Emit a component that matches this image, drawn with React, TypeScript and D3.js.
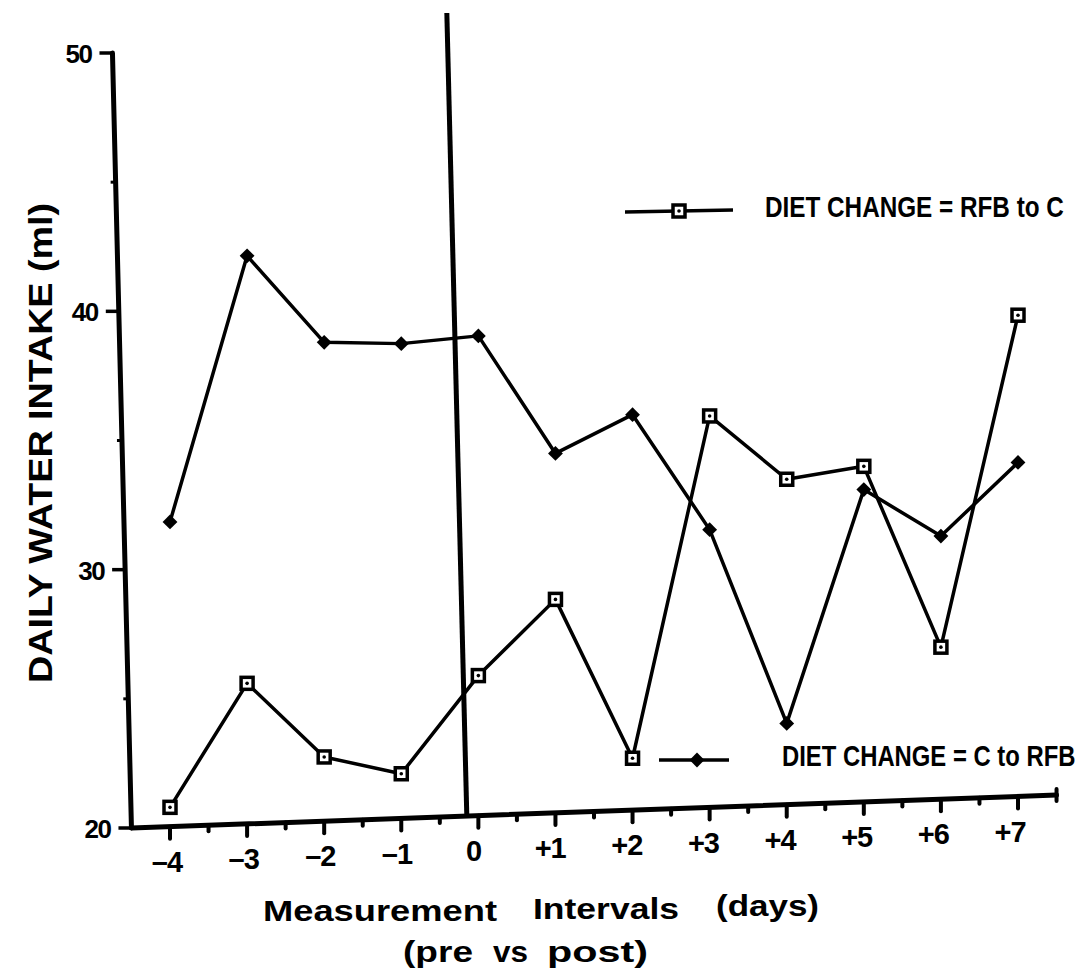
import React from 'react';
import * as d3 from 'd3';

// ---- data ----
const days = [-4, -3, -2, -1, 0, 1, 2, 3, 4, 5, 6, 7];
const dayLabels = ['–4', '–3', '–2', '–1', '0', '+1', '+2', '+3', '+4', '+5', '+6', '+7'];
const rfbToC = [20.8, 25.6, 22.75, 22.1, 25.9, 28.85, 22.7, 35.95, 33.5, 34.0, 27.0, 39.85];
const cToRfb = [31.85, 42.15, 38.8, 38.75, 39.05, 34.5, 36.0, 31.55, 24.05, 33.1, 31.3, 34.15];
const yTicks = [20, 30, 40, 50];
const yMinorTicks = [25, 35, 45];
const legendLabels = ['DIET  CHANGE = RFB to C', 'DIET  CHANGE = C to RFB'];
const yTitle = 'DAILY WATER INTAKE (ml)';
const xTitleLine1 = ['Measurement', 'Intervals', '(days)'];
const xTitleLine2 = ['(pre', 'vs', 'post)'];
const dietChangeDay = -0.15;
const separatorTopValue = 51.55;

// ---- layout ----
const W = 1087;
const H = 975;
const FONT = '"Liberation Sans", Arial, Helvetica, sans-serif';
const x = d3.scaleLinear().domain([-4, 7]).range([170, 1018]);
const y = d3.scaleLinear().domain([20, 50]).range([828, 53]);
const labelX = d3.scaleLinear().domain([-4, 7]).range([167, 1010]);
const xAxisDomain: [number, number] = [-4.5, 7.5];
const tilt = -0.0356; // slope of the hand-drawn x axis
const lean = 0.0245; // lean of the vertical lines
const x0 = x(xAxisDomain[0]);
const y0 = y(20);
const axisY = (px: number) => y0 + tilt * (px - x0);
const axisX = (py: number) => x0 + lean * (py - y0);

const line = d3
  .line<number>()
  .x((_, i) => x(days[i]))
  .y((d) => y(d));

const diamondPath = d3.symbol(d3.symbolSquare, 110)() as string;

function SquareMarker({ cx, cy }: { cx: number; cy: number }) {
  return (
    <g>
      <rect x={cx - 6} y={cy - 6} width={12} height={12} fill="#fff" stroke="#000" strokeWidth={3.5} />
      <circle cx={cx} cy={cy} r={1.8} fill="#000" />
    </g>
  );
}

function DiamondMarker({ cx, cy }: { cx: number; cy: number }) {
  return <path d={diamondPath} transform={`translate(${cx},${cy}) rotate(45)`} fill="#000" />;
}

export default function App() {
  const halfTicks = d3.range(-4, 7.51, 0.5);
  const xEnd = x(xAxisDomain[1]);
  const sepBottomX = x(dietChangeDay);
  const sepBottomY = axisY(sepBottomX);
  const sepTopY = y(separatorTopValue);
  const sepTopX = sepBottomX + lean * (sepTopY - y0);

  // text layout for x title words: [start, end, baseline]
  const line1Layout = [
    [263, 497, 921],
    [533, 679, 919],
    [716, 819, 916],
  ];
  const line2Layout = [
    [403, 473, 962],
    [493, 528, 962],
    [547, 648, 962],
  ];

  return (
    <svg
      width={W}
      height={H}
      viewBox={`0 0 ${W} ${H}`}
      style={{ position: 'absolute', left: 0, top: 0, background: '#fff' }}
      fontFamily={FONT}
    >
      <rect x={0} y={0} width={W} height={H} fill="#fff" />

      {/* y axis */}
      <line x1={axisX(y(50))} y1={y(50)} x2={x0} y2={y0} stroke="#000" strokeWidth={5} strokeLinecap="round" />
      {yTicks.map((v) => {
        const py = y(v);
        const ax = axisX(py);
        return (
          <g key={`yt${v}`}>
            <line x1={ax - 13} y1={py} x2={ax} y2={py} stroke="#000" strokeWidth={3.5} />
            <text x={ax - 21} y={py + 10} textAnchor="end" fontSize={26} fontWeight="bold" letterSpacing={-1.5}>
              {v}
            </text>
          </g>
        );
      })}
      {yMinorTicks.map((v) => {
        const py = y(v);
        const ax = axisX(py);
        return <line key={`ym${v}`} x1={ax - 5} y1={py} x2={ax} y2={py} stroke="#000" strokeWidth={3} />;
      })}

      {/* x axis */}
      <line x1={x0} y1={y0} x2={xEnd} y2={axisY(xEnd)} stroke="#000" strokeWidth={5} strokeLinecap="round" />
      {halfTicks.map((t) => {
        const px = x(t);
        const py = axisY(px);
        const major = Number.isInteger(t);
        const isEnd = t === xAxisDomain[1];
        return (
          <line
            key={`xt${t}`}
            x1={px}
            y1={isEnd ? py - 6 : py}
            x2={px}
            y2={py + (major ? 12 : 6)}
            stroke="#000"
            strokeWidth={4}
            strokeLinecap="round"
          />
        );
      })}
      {days.map((d, i) => {
        const px = labelX(d);
        return (
          <text key={`xl${d}`} x={px} y={axisY(px) + 45} textAnchor="middle" fontSize={29} fontWeight="bold" letterSpacing={-1}>
            {dayLabels[i]}
          </text>
        );
      })}

      {/* diet change separator */}
      <line x1={sepTopX} y1={sepTopY} x2={sepBottomX} y2={sepBottomY} stroke="#000" strokeWidth={5} />

      {/* series */}
      <path d={line(cToRfb) as string} fill="none" stroke="#000" strokeWidth={3.5} strokeLinejoin="round" />
      <path d={line(rfbToC) as string} fill="none" stroke="#000" strokeWidth={3.5} strokeLinejoin="round" />
      {cToRfb.map((v, i) => (
        <DiamondMarker key={`d${i}`} cx={x(days[i])} cy={y(v)} />
      ))}
      {rfbToC.map((v, i) => (
        <SquareMarker key={`s${i}`} cx={x(days[i])} cy={y(v)} />
      ))}

      {/* legend */}
      <g>
        <line x1={625} y1={212} x2={733} y2={210} stroke="#000" strokeWidth={3.5} />
        <SquareMarker cx={679} cy={211} />
        <g transform="translate(765,217) scale(0.81,1)">
          <text x={0} y={0} fontSize={30} fontWeight="bold">
            {legendLabels[0]}
          </text>
        </g>
        <line x1={659} y1={760} x2={729} y2={760} stroke="#000" strokeWidth={3.5} />
        <DiamondMarker cx={697} cy={760} />
        <g transform="translate(782,766) scale(0.795,1)">
          <text x={0} y={0} fontSize={30} fontWeight="bold">
            {legendLabels[1]}
          </text>
        </g>
      </g>

      {/* y title */}
      <text
        transform={`translate(52,443) rotate(-90)`}
        textAnchor="middle"
        fontSize={34}
        fontWeight="bold"
        textLength={480}
        lengthAdjust="spacingAndGlyphs"
      >
        {yTitle}
      </text>

      {/* x title */}
      {xTitleLine1.map((w, i) => (
        <text
          key={`t1${i}`}
          x={line1Layout[i][0]}
          y={line1Layout[i][2]}
          fontSize={30}
          fontWeight="bold"
          textLength={line1Layout[i][1] - line1Layout[i][0]}
          lengthAdjust="spacingAndGlyphs"
        >
          {w}
        </text>
      ))}
      {xTitleLine2.map((w, i) => (
        <text
          key={`t2${i}`}
          x={line2Layout[i][0]}
          y={line2Layout[i][2]}
          fontSize={30}
          fontWeight="bold"
          textLength={line2Layout[i][1] - line2Layout[i][0]}
          lengthAdjust="spacingAndGlyphs"
        >
          {w}
        </text>
      ))}
    </svg>
  );
}
